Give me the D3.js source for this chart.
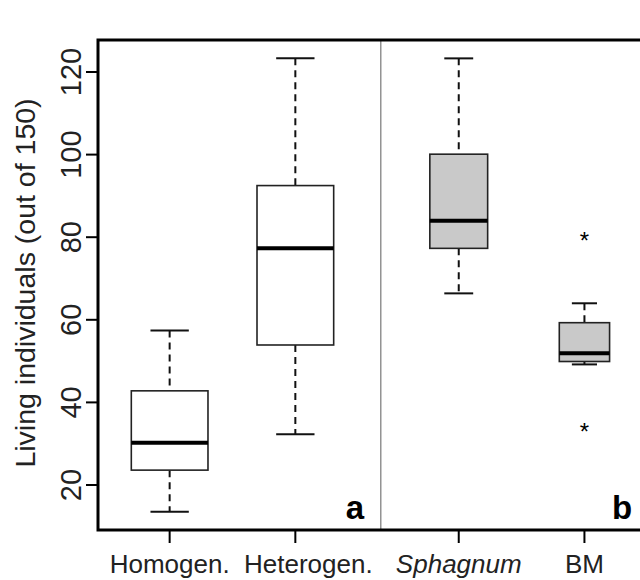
<!DOCTYPE html>
<html>
<head>
<meta charset="utf-8">
<script src="https://cdn.jsdelivr.net/npm/d3@7"></script>
<style>
  body { margin: 0; background: #fff; }
  text { font-family: "Liberation Sans", Arial, Helvetica, sans-serif; }
</style>
</head>
<body>
<script>
// box statistics
const groups   = ["Homogen.", "Heterogen.", "Sphagnum", "BM"];
const panel    = ["a", "a", "b", "b"];
const xpos     = [1, 2, 3.3, 4.3];
const lower    = [13.5, 32.3, 66.4, 49.2];
const q1       = [23.6, 53.9, 77.3, 49.9];
const median   = [30.2, 77.3, 84.0, 51.9];
const q3       = [42.8, 92.5, 100.1, 59.3];
const upper    = [57.4, 123.3, 123.3, 64.0];
const boxWidth = [0.61, 0.61, 0.46, 0.40]; // varwidth, in x units
const outliers = [{g: 3, v: 80.0}, {g: 3, v: 33.7}];
const yTicks   = [20, 40, 60, 80, 100, 120];

const width = 640, height = 580;
const svg = d3.select("body").append("svg")
    .attr("width", width).attr("height", height);

const x = d3.scaleLinear().domain([0.43, 4.75]).range([98, 641]);
const y = d3.scaleLinear().domain([20, 120]).range([485, 72]);
const plotTop = 40, plotBottom = 530;

const boxes = groups.map((name, i) => ({
  name, panel: panel[i], x: xpos[i], lo: lower[i], q1: q1[i],
  med: median[i], q3: q3[i], hi: upper[i], w: boxWidth[i]
}));

// separator between the two panels
svg.append("line")
    .attr("x1", x(2.68)).attr("x2", x(2.68))
    .attr("y1", plotTop).attr("y2", plotBottom)
    .attr("stroke", "#777").attr("stroke-width", 1.2);

const g = svg.append("g").selectAll("g").data(boxes).join("g");

// whiskers
g.append("line")
    .attr("x1", d => x(d.x)).attr("x2", d => x(d.x))
    .attr("y1", d => y(d.hi)).attr("y2", d => y(d.q3))
    .attr("stroke", "#111").attr("stroke-width", 2).attr("stroke-dasharray", "7,5");
g.append("line")
    .attr("x1", d => x(d.x)).attr("x2", d => x(d.x))
    .attr("y1", d => y(d.q1)).attr("y2", d => y(d.lo))
    .attr("stroke", "#111").attr("stroke-width", 2).attr("stroke-dasharray", "7,5");

// staples (half box width)
[d => d.hi, d => d.lo].forEach(f => {
  g.append("line")
      .attr("x1", d => x(d.x - d.w / 4)).attr("x2", d => x(d.x + d.w / 4))
      .attr("y1", d => y(f(d))).attr("y2", d => y(f(d)))
      .attr("stroke", "#111").attr("stroke-width", 2);
});

// boxes
g.append("rect")
    .attr("x", d => x(d.x - d.w / 2))
    .attr("width", d => x(d.x + d.w / 2) - x(d.x - d.w / 2))
    .attr("y", d => y(d.q3))
    .attr("height", d => y(d.q1) - y(d.q3))
    .attr("fill", d => d.panel === "a" ? "#fff" : "#c9c9c9")
    .attr("stroke", "#222").attr("stroke-width", 1.6);

// medians
g.append("line")
    .attr("x1", d => x(d.x - d.w / 2)).attr("x2", d => x(d.x + d.w / 2))
    .attr("y1", d => y(d.med)).attr("y2", d => y(d.med))
    .attr("stroke", "#000").attr("stroke-width", 4);

// outliers
svg.append("g").selectAll("text").data(outliers).join("text")
    .attr("x", d => x(xpos[d.g]))
    .attr("y", d => y(d.v) + 12)
    .attr("text-anchor", "middle")
    .attr("font-size", 24)
    .text("*");

// frame: left, bottom, top
svg.append("path")
    .attr("d", `M${width},${plotTop}H98V${plotBottom}H${width}`)
    .attr("fill", "none").attr("stroke", "#000").attr("stroke-width", 3);

// y axis
const yAxis = svg.append("g").selectAll("g").data(yTicks).join("g")
    .attr("transform", d => `translate(0,${y(d)})`);
yAxis.append("line").attr("x1", 86).attr("x2", 98).attr("stroke", "#000").attr("stroke-width", 2);
yAxis.append("text")
    .attr("transform", "translate(81,0) rotate(-90)")
    .attr("text-anchor", "middle")
    .attr("font-size", 29)
    .attr("fill", "#222")
    .text(d => d);

svg.append("text")
    .attr("transform", "translate(35,283) rotate(-90)")
    .attr("text-anchor", "middle")
    .attr("font-size", 28.5)
    .attr("fill", "#222")
    .text("Living individuals (out of 150)");

// x axis
const xAxis = svg.append("g").selectAll("g").data(boxes).join("g")
    .attr("transform", d => `translate(${x(d.x)},0)`);
xAxis.append("line").attr("y1", plotBottom).attr("y2", 543).attr("stroke", "#000").attr("stroke-width", 2);
xAxis.append("text")
    .attr("x", d => d.name === "Heterogen." ? 13 : 0) // label nudged right to clear its neighbour
    .attr("y", 573)
    .attr("text-anchor", "middle")
    .attr("font-size", 26)
    .attr("fill", "#222")
    .attr("font-style", d => d.name === "Sphagnum" ? "italic" : "normal")
    .text(d => d.name);

// panel letters
svg.append("text").attr("x", 355).attr("y", 519).attr("text-anchor", "middle")
    .attr("font-size", 33).attr("font-weight", "bold").text("a");
svg.append("text").attr("x", 622).attr("y", 519).attr("text-anchor", "middle")
    .attr("font-size", 33).attr("font-weight", "bold").text("b");
</script>
</body>
</html>
